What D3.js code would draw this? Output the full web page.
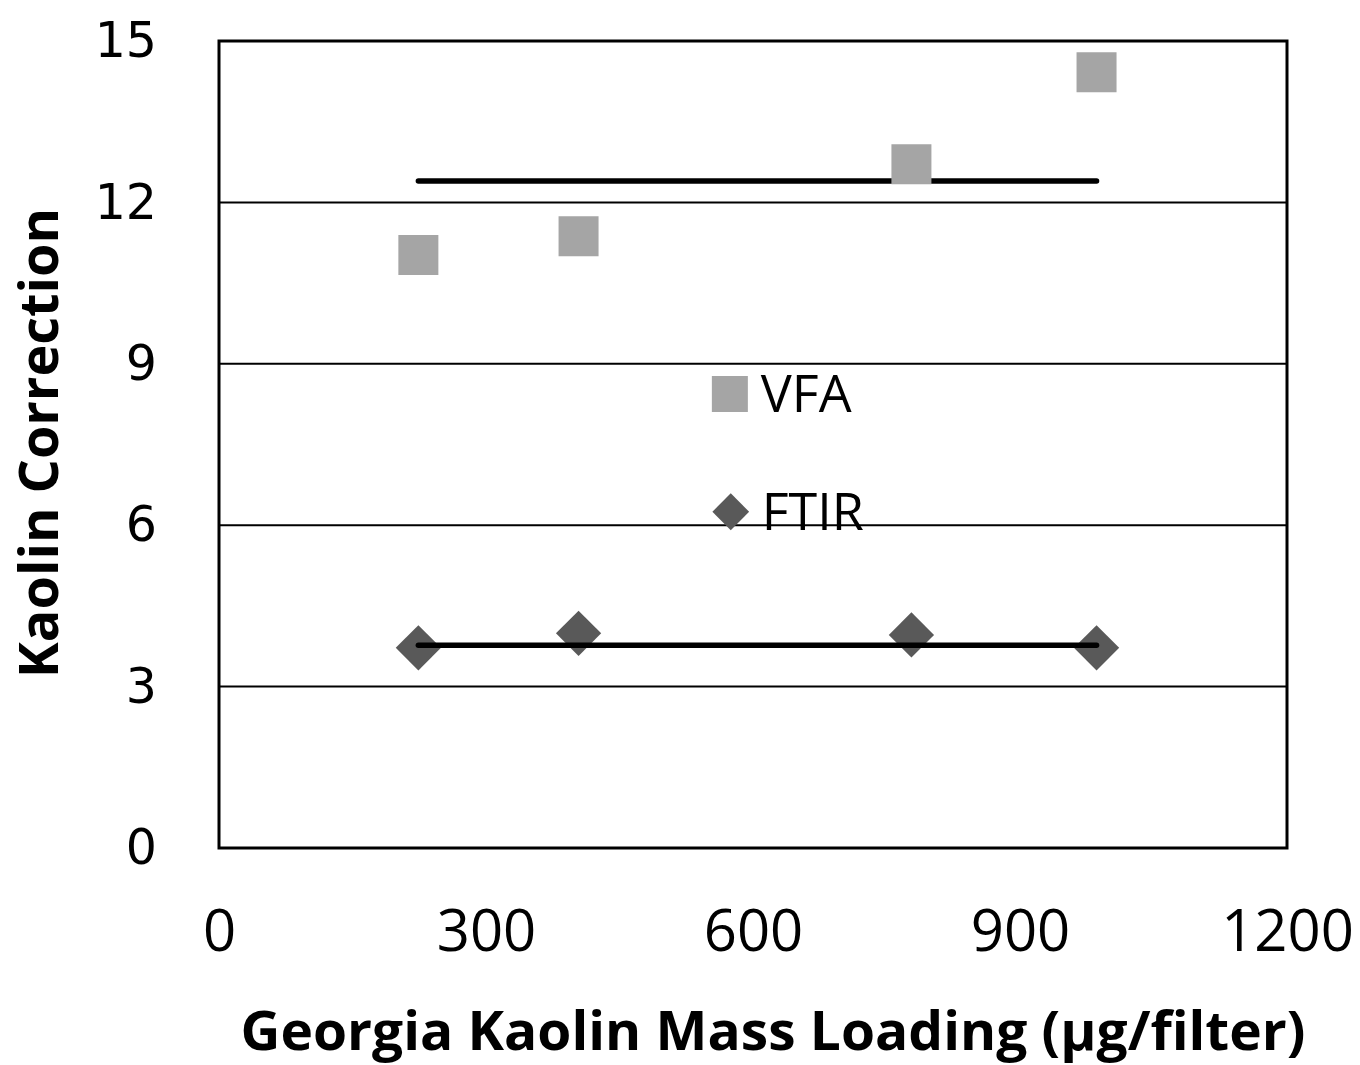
<!DOCTYPE html>
<html><head><meta charset="utf-8">
<script src="https://cdn.jsdelivr.net/npm/d3@7"></script>
<style>body{margin:0;background:#fff}</style>
</head><body>
<svg id="c" width="1360" height="1065"></svg>
<script>
const vfaX = [224, 404, 778, 986];
const vfaY = [11.02, 11.37, 12.71, 14.42];
const ftirX = [224, 404, 778, 986];
const ftirY = [3.72, 3.99, 3.96, 3.72];
const vfaMean = 12.40;
const ftirMean = 3.77;
const meanRange = [224, 986];
const xTicks = [0, 300, 600, 900, 1200];
const yTicks = [0, 3, 6, 9, 12, 15];
const seriesNames = ["VFA", "FTIR"];
const legendPos = [[574, 8.44], [575, 6.25]];

const svg = d3.select("#c");
const L = 219, R = 1287, T = 41, B = 848;
const x = d3.scaleLinear().domain([0, 1200]).range([L, R]);
const y = d3.scaleLinear().domain([0, 15]).range([B, T]);

// gridlines
svg.append("g").selectAll("line").data(yTicks.filter(d => d > 0 && d < 15)).join("line")
  .attr("x1", L).attr("x2", R).attr("y1", d => y(d)).attr("y2", d => y(d))
  .attr("stroke", "#000").attr("stroke-width", 2);

// frame
svg.append("rect").attr("x", L).attr("y", T).attr("width", R - L).attr("height", B - T)
  .attr("fill", "none").attr("stroke", "#000").attr("stroke-width", 3);

// axes labels
const yAxis = d3.axisLeft(y).tickValues(yTicks).tickSize(0).tickPadding(62);
const gy = svg.append("g").attr("transform", `translate(${L},0)`).call(yAxis);
gy.select(".domain").remove();
gy.selectAll("text").attr("font-family", "DejaVu Sans").attr("font-size", 49).attr("fill", "#000");

const xAxis = d3.axisBottom(x).tickValues(xTicks).tickFormat(d3.format("d")).tickSize(0).tickPadding(62);
const gx = svg.append("g").attr("transform", `translate(0,${B})`).call(xAxis);
gx.select(".domain").remove();
gx.selectAll("text").attr("font-family", "Open Sans").attr("font-size", 58).attr("fill", "#000");

// VFA mean line
svg.append("line").attr("x1", x(meanRange[0])).attr("x2", x(meanRange[1]))
  .attr("y1", y(vfaMean)).attr("y2", y(vfaMean)).attr("stroke", "#000").attr("stroke-width", 5.5)
  .attr("stroke-linecap", "round");

const sq = d3.symbol().type(d3.symbolSquare).size(40 * 40);
const dm = d3.symbol().type(d3.symbolSquare).size(32 * 32);

// VFA squares
svg.append("g").selectAll("path").data(vfaX.map((d, i) => [d, vfaY[i]])).join("path")
  .attr("d", sq).attr("transform", d => `translate(${x(d[0])},${y(d[1])})`)
  .attr("fill", "#a5a5a5");

// FTIR diamonds
svg.append("g").selectAll("path").data(ftirX.map((d, i) => [d, ftirY[i]])).join("path")
  .attr("d", dm).attr("transform", d => `translate(${x(d[0])},${y(d[1])}) rotate(45)`)
  .attr("fill", "#595959");

// FTIR mean line on top
svg.append("line").attr("x1", x(meanRange[0])).attr("x2", x(meanRange[1]))
  .attr("y1", y(ftirMean)).attr("y2", y(ftirMean)).attr("stroke", "#000").attr("stroke-width", 5.5)
  .attr("stroke-linecap", "round");

// legend
const lg = svg.append("g");
lg.append("path").attr("d", d3.symbol().type(d3.symbolSquare).size(36 * 36))
  .attr("transform", `translate(${x(legendPos[0][0])},${y(legendPos[0][1])})`).attr("fill", "#a5a5a5");
lg.append("path").attr("d", d3.symbol().type(d3.symbolSquare).size(26 * 26))
  .attr("transform", `translate(${x(legendPos[1][0])},${y(legendPos[1][1])}) rotate(45)`).attr("fill", "#595959");
seriesNames.forEach((n, i) => {
  lg.append("text").attr("x", x(legendPos[i][0]) + 31).attr("y", y(legendPos[i][1]) + 18)
    .attr("font-family", "Open Sans").attr("font-size", 52).attr("fill", "#000").text(n);
});

// titles
svg.append("text").attr("transform", `translate(58,443) rotate(-90)`).attr("text-anchor", "middle")
  .attr("font-family", "Open Sans").attr("font-weight", "bold").attr("font-size", 54)
  .attr("textLength", 470).attr("lengthAdjust", "spacingAndGlyphs").attr("fill", "#000")
  .text("Kaolin Correction");
svg.append("text").attr("x", 773).attr("y", 1050).attr("text-anchor", "middle")
  .attr("font-family", "Open Sans").attr("font-weight", "bold").attr("font-size", 54)
  .attr("textLength", 1065).attr("lengthAdjust", "spacingAndGlyphs").attr("fill", "#000")
  .text("Georgia Kaolin Mass Loading (μg/filter)");
</script>
</body></html>
